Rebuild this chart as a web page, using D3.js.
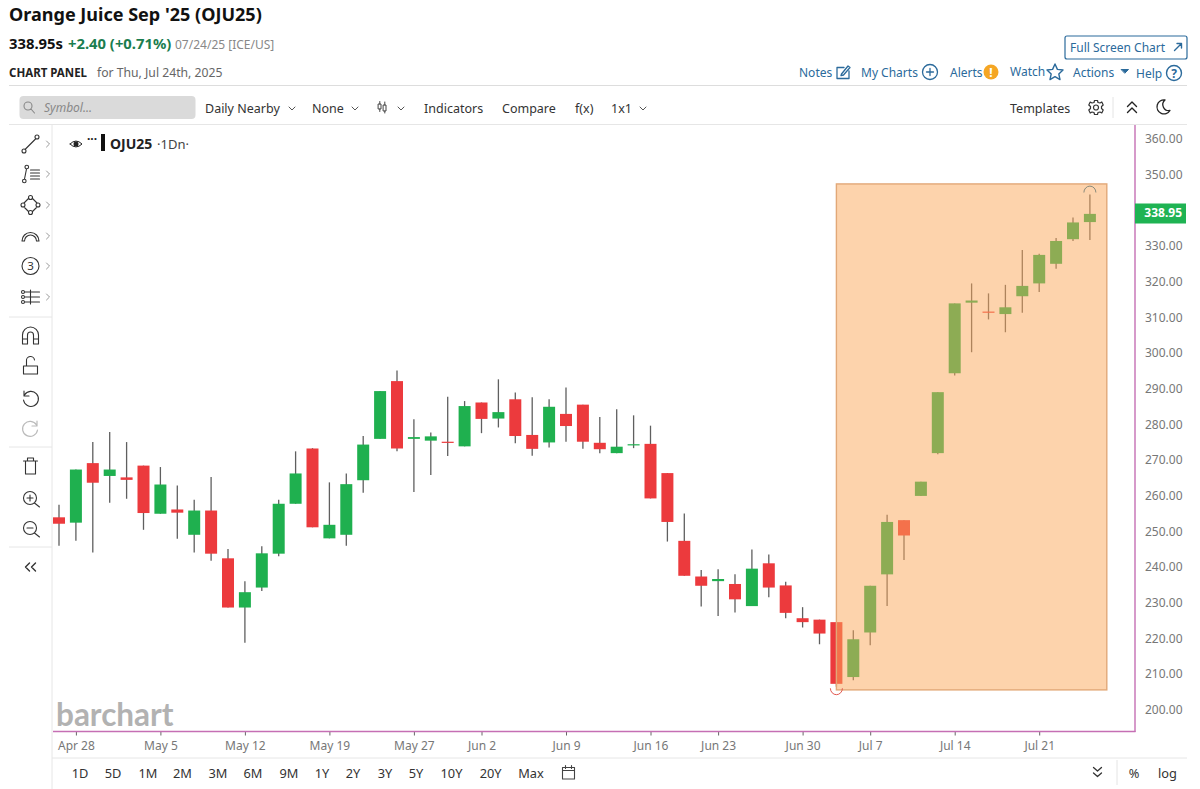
<!DOCTYPE html>
<html>
<head>
<meta charset="utf-8">
<script src="https://cdn.jsdelivr.net/npm/d3@7"></script>
<style>
  html, body { margin: 0; padding: 0; background: #fff; }
  svg { display: block; }
  text { font-family: "Noto Sans", "Open Sans", sans-serif; }
</style>
</head>
<body>
<svg id="chart" width="1200" height="789"></svg>
<script>
// Trading days shown on the chart
var tradingDays = [
  "Apr 25", "Apr 28", "Apr 29", "Apr 30", "May 1", "May 2",
  "May 5", "May 6", "May 7", "May 8", "May 9",
  "May 12", "May 13", "May 14", "May 15", "May 16",
  "May 19", "May 20", "May 21", "May 22", "May 23",
  "May 27", "May 28", "May 29", "May 30",
  "Jun 2", "Jun 3", "Jun 4", "Jun 5", "Jun 6",
  "Jun 9", "Jun 10", "Jun 11", "Jun 12", "Jun 13",
  "Jun 16", "Jun 17", "Jun 18", "Jun 20",
  "Jun 23", "Jun 24", "Jun 25", "Jun 26", "Jun 27",
  "Jun 30", "Jul 1", "Jul 2", "Jul 3",
  "Jul 7", "Jul 8", "Jul 9", "Jul 10", "Jul 11",
  "Jul 14", "Jul 15", "Jul 16", "Jul 17", "Jul 18",
  "Jul 21", "Jul 22", "Jul 23", "Jul 24"
];

// OHLC values
var opens = [
  253.9, 252.4, 269.1, 265.5, 265.1, 268.4, 254.9, 256.1, 249.0, 255.8,
  242.4, 228.6, 234.2, 243.7, 257.7, 273.2, 248.0, 249.0, 264.3, 275.9,
  292.1, 275.9, 275.4, 275.1, 273.8, 286.1, 281.6, 287.0, 277.0, 274.9,
  282.9, 285.5, 274.8, 271.9, 274.4, 274.5, 266.3, 247.3, 237.3, 236.0,
  235.2, 229.0, 241.0, 234.8, 225.6, 225.2, 224.5, 209.1, 221.6, 237.9,
  253.1, 259.9, 271.9, 294.3, 314.1, 311.6, 310.9, 315.9, 319.5, 325.0,
  331.9, 336.7
];
var closes = [
  252.1, 267.3, 263.6, 267.3, 264.4, 255.1, 263.1, 255.2, 255.8, 243.7,
  228.6, 232.9, 243.8, 257.7, 266.2, 251.1, 251.8, 263.2, 274.3, 289.3,
  273.2, 276.4, 276.6, 274.9, 285.1, 281.5, 283.4, 276.7, 273.1, 284.9,
  279.5, 275.1, 273.0, 273.7, 274.4, 259.2, 252.6, 237.5, 234.7, 236.6,
  230.9, 239.5, 234.2, 227.1, 224.5, 221.3, 207.2, 219.7, 234.7, 252.6,
  248.8, 263.9, 289.0, 313.9, 314.7, 311.4, 312.8, 318.8, 327.5, 331.4,
  336.6, 339.0
];
var highs = [
  257.4, 267.3, 275.0, 277.8, 275.0, 268.4, 268.0, 262.8, 258.8, 265.2,
  245.0, 236.0, 245.8, 258.8, 272.4, 273.3, 263.7, 266.2, 276.7, 289.3,
  295.1, 281.4, 277.7, 287.7, 286.5, 286.1, 292.6, 288.9, 287.6, 287.0,
  290.3, 285.5, 282.0, 284.2, 282.5, 279.6, 266.3, 255.0, 239.1, 239.3,
  237.9, 244.9, 243.5, 235.8, 228.7, 225.2, 224.5, 222.2, 234.7, 254.6,
  253.1, 263.9, 289.0, 313.9, 319.5, 316.7, 319.1, 328.9, 327.8, 332.2,
  338.0, 344.4
];
var lows = [
  245.9, 247.3, 244.0, 258.0, 259.1, 250.4, 254.9, 247.9, 244.0, 241.7,
  228.6, 218.7, 233.2, 243.0, 257.7, 251.1, 248.0, 245.9, 260.8, 275.9,
  272.4, 261.0, 265.8, 271.1, 273.8, 277.5, 279.1, 274.7, 271.2, 273.5,
  275.1, 273.1, 271.9, 271.9, 273.3, 259.2, 247.1, 237.5, 228.9, 226.2,
  227.2, 229.0, 231.5, 225.6, 223.0, 218.3, 206.4, 208.2, 218.0, 229.0,
  241.9, 259.9, 271.6, 293.7, 300.2, 309.4, 305.8, 311.3, 317.1, 323.6,
  331.4, 331.7
];

// Axis labels (340.00 sits under the last price tag in the reference)
var priceTicks = [200, 210, 220, 230, 240, 250, 260, 270, 280, 290, 300, 310, 320, 330, 350, 360];
var dateTicks = ["Apr 28", "May 5", "May 12", "May 19", "May 27", "Jun 2", "Jun 9", "Jun 16", "Jun 23", "Jun 30", "Jul 7", "Jul 14", "Jul 21"];

// Highlighted rectangle: first day and price range
var boxStartDay = "Jul 2";
var boxTop = 347.4;
var boxBottom = 205.5;
var lastPrice = 338.95;

var svg = d3.select("#chart");
var blue = "#2b6a9b", grey = "#777", ink = "#333";

// Scales
var x = d3.scalePoint().domain(tradingDays).range([59, 1089.9]);
var y = d3.scaleLinear().domain([200, 360]).range([709.5, 139]);

// Helper for plain text
function label(tx, ty, str, size, color, weight, anchor) {
  return svg.append("text").attr("x", tx).attr("y", ty).text(str)
    .attr("font-size", size).attr("fill", color)
    .attr("font-weight", weight || 400)
    .attr("text-anchor", anchor || "start");
}
function rule(x1, y1, x2, y2, color, w) {
  svg.append("line").attr("x1", x1).attr("y1", y1).attr("x2", x2).attr("y2", y2)
    .attr("stroke", color).attr("stroke-width", w || 1);
}
// Icon helper, path is drawn around its centre
function icon(cx, cy, d, color, w, fill) {
  return svg.append("path").attr("transform", "translate(" + cx + "," + cy + ")")
    .attr("d", d).attr("fill", fill || "none").attr("stroke", color)
    .attr("stroke-width", w || 1.3).attr("stroke-linecap", "round").attr("stroke-linejoin", "round");
}
function chevron(cx, cy) { icon(cx, cy, "M-3,-1.5L0,1.5L3,-1.5", "#555", 1); }

// Header
label(9, 21, "Orange Juice Sep '25 (OJU25)", 18.05, "#111", 700);
label(9, 49, "338.95s", 14.8, "#111", 700);
label(68, 49, "+2.40 (+0.71%)", 14.8, "#1b7d4f", 700);
label(175, 49, "07/24/25 [ICE/US]", 12, "#888");
label(9, 77, "CHART PANEL", 11.5, "#222", 700);
label(97, 77, "for Thu, Jul 24th, 2025", 12.2, "#666");

// Full screen button and link row
svg.append("rect").attr("x", 1065).attr("y", 36).attr("width", 122).attr("height", 23).attr("rx", 2)
  .attr("fill", "#fff").attr("stroke", blue).attr("stroke-width", 1.2);
label(1070, 51.5, "Full Screen Chart", 12, blue);
icon(1178, 47, "M-3.5,3.5L3.5,-3.5M-1,-3.5H3.5V1", blue, 1.4);

label(799, 76.5, "Notes", 12, blue);
icon(843, 72, "M-6,-4.5H1M6,-1V6.5H-6V-4.5M-1.5,2L5,-6L7,-4.5L0.5,3L-2,3.5Z", blue);
label(861, 76.5, "My Charts", 12, blue);
icon(930, 72, "M-7.5,0A7.5,7.5 0 1,1 7.5,0A7.5,7.5 0 1,1 -7.5,0M-3.5,0H3.5M0,-3.5V3.5", blue);
label(950, 77, "Alerts", 12, blue);
svg.append("circle").attr("cx", 991).attr("cy", 72).attr("r", 7.5).attr("fill", "#f5a623");
label(991, 76.5, "!", 12, "#fff", 700, "middle");
label(1010, 76, "Watch", 12, blue);
icon(1055, 72, "M0,-8L2.4,-2.6L8,-2L3.8,1.9L5,7.6L0,4.7L-5,7.6L-3.8,1.9L-8,-2L-2.4,-2.6Z", blue, 1.4);
label(1073, 77, "Actions", 12, blue);
icon(1125, 71, "M-3.5,-1.5H3.5L0,2Z", blue, 1, blue);
label(1136, 78, "Help", 12, blue);
icon(1174, 73, "M-7.5,0A7.5,7.5 0 1,1 7.5,0A7.5,7.5 0 1,1 -7.5,0", blue, 1.4);
label(1174, 77.5, "?", 12, blue, 700, "middle");

rule(9, 85.5, 1187, 85.5, "#ddd");
rule(9, 124.5, 1187, 124.5, "#e6e6e6");

// Chart toolbar
svg.append("rect").attr("x", 19.5).attr("y", 96).attr("width", 176).attr("height", 23).attr("rx", 4).attr("fill", "#dadada");
icon(29, 107, "M-5,-1A4,4 0 1,1 3,-1A4,4 0 1,1 -5,-1M2,2L5.5,6", "#888", 1.1);
label(44, 112, "Symbol...", 12, "#888").attr("font-style", "italic");
var toolItems = [[205, "Daily Nearby"], [312, "None"], [424, "Indicators"], [502, "Compare"], [575, "f(x)"], [611, "1x1"], [1010, "Templates"]];
toolItems.forEach(function(t) { label(t[0], 112.5, t[1], 12.5, ink); });
[292, 355, 401, 643].forEach(function(c) { chevron(c, 108.5); });
icon(382, 107, "M-3.5,-3H-1V2H-3.5ZM-2.2,-5.5V-3M-2.2,2V4.5M1.5,-2H4V4H1.5ZM2.8,-5V-2M2.8,4V6", "#444", 1);
icon(1096, 107.5, "M-2.5,0A2.5,2.5 0 1,1 2.5,0A2.5,2.5 0 1,1 -2.5,0M-1.5,-7H1.5L2,-5L4,-4.5L5.8,-5.5L7.2,-2.5L5.5,-1V1L7.2,2.5L5.8,5.5L4,4.5L2,5L1.5,7H-1.5L-2,5L-4,4.5L-5.8,5.5L-7.2,2.5L-5.5,1V-1L-7.2,-2.5L-5.8,-5.5L-4,-4.5L-2,-5Z", "#333", 1.2);
rule(1113, 97, 1113, 118, "#e4e4e4");
icon(1132, 107.5, "M-4.5,-1L0,-5.5L4.5,-1M-4.5,5L0,0.5L4.5,5", "#222", 1.4);
icon(1163, 107, "M2,-7A7,7 0 1,0 7,3.5A6,6 0 0,1 2,-7Z", "#222", 1.3);

// Left drawing tools
rule(52, 125, 52, 789, "#e6e6e6");
var toolIcons = [
  [144, "M-5.5,5.5L5.5,-5.5M-8.5,7A2,2 0 1,0 -4.5,7A2,2 0 1,0 -8.5,7M4.5,-7A2,2 0 1,0 8.5,-7A2,2 0 1,0 4.5,-7"],
  [174, "M-4,-5L-6,5M-8,7A1.8,1.8 0 1,0 -4.4,7A1.8,1.8 0 1,0 -8,7M-5.5,-7A1.8,1.8 0 1,0 -1.9,-7A1.8,1.8 0 1,0 -5.5,-7M0,-4H9M0,-1H9M0,2H9M0,5H9"],
  [205, "M-6.5,-2L-2,-6.5M2,-6.5L6.5,-2M6.5,2L2,6.5M-2,6.5L-6.5,2M-2,-7.5A2,2 0 1,0 2,-7.5A2,2 0 1,0 -2,-7.5M-2,7.5A2,2 0 1,0 2,7.5A2,2 0 1,0 -2,7.5M-9.5,0A2,2 0 1,0 -5.5,0A2,2 0 1,0 -9.5,0M5.5,0A2,2 0 1,0 9.5,0A2,2 0 1,0 5.5,0"],
  [236, "M-8.5,5A8.5,8.5 0 0,1 8.5,5H6A6,6 0 0,0 -6,5Z"],
  [266, "M-8.5,0A8.5,8.5 0 1,1 8.5,0A8.5,8.5 0 1,1 -8.5,0"],
  [297, "M-6,-5H9M-6,0H9M-6,5H9M0,-7V7M-9,-5A1.5,1.5 0 1,0 -6,-5A1.5,1.5 0 1,0 -9,-5M-9,0A1.5,1.5 0 1,0 -6,0A1.5,1.5 0 1,0 -9,0M-9,5A1.5,1.5 0 1,0 -6,5A1.5,1.5 0 1,0 -9,5"],
  [336, "M-8,8V-1A8,8 0 0,1 8,-1V8H3V-1A3,3 0 0,0 -3,-1V8ZM-8,3H-3M3,3H8"],
  [365, "M-7,1H7V9H-7ZM-4,1V-4A4,4 0 0,1 4,-5"],
  [397, "M-6.5,-6V-1H-1.5M-6,-2A7.5,7.5 0 1,1 -7,3"],
  [466, "M-7,-5H7M-5,-5V8H5V-5M-3,-5V-8H3V-5"],
  [498, "M-7,0A6.5,6.5 0 1,1 6,0A6.5,6.5 0 1,1 -7,0M4,5L9,9M-3.5,0H2.5M-0.5,-3V3"],
  [528, "M-7,0A6.5,6.5 0 1,1 6,0A6.5,6.5 0 1,1 -7,0M4,5L9,9M-3.5,0H2.5"]
];
toolIcons.forEach(function(t) { icon(30.5, t[0], t[1], "#333", 1.1); });
icon(30.5, 427, "M6.5,-6V-1H1.5M6,-2A7.5,7.5 0 1,0 7,3", "#bbb", 1.2);
label(30.5, 270, "3", 11.5, "#333", 400, "middle");
icon(30.5, 567, "M-1,-4L-5,0L-1,4M5,-4L1,0L5,4", "#333", 1.4);
[144, 174, 205, 236, 266, 297].forEach(function(c) { icon(48, c, "M-1.5,-3L1.5,0L-1.5,3", "#999", 1); });
[317, 447, 547].forEach(function(c) { rule(9, c, 52, c, "#e6e6e6"); });

// Legend
icon(76, 144, "M-6,0Q0,-6 6,0Q0,6 -6,0", "#222", 1);
svg.append("circle").attr("cx", 76).attr("cy", 144).attr("r", 2.5).attr("fill", "#222");
label(87, 143, "···", 12, "#222", 700);
svg.append("rect").attr("x", 101).attr("y", 134).attr("width", 4).attr("height", 17).attr("fill", "#111");
label(110, 149, "OJU25", 14, "#222", 700);
label(157, 149, "·1Dn·", 13, "#444");

// Watermark
label(56, 726, "barchart", 31.5, "#b2b2b2", 700).style("font-family", "Lato, sans-serif");

// Candles
var candles = tradingDays.map(function(day, i) {
  return { day: day, open: opens[i], close: closes[i], high: highs[i], low: lows[i] };
});
var bars = svg.append("g").selectAll("g").data(candles).enter().append("g");
bars.append("line")
  .attr("x1", function(d) { return x(d.day); })
  .attr("x2", function(d) { return x(d.day); })
  .attr("y1", function(d) { return y(d.high); })
  .attr("y2", function(d) { return y(d.low); })
  .attr("stroke", "#5f5f5f").attr("stroke-width", 1.3);
bars.append("rect")
  .attr("x", function(d) { return x(d.day) - 6; })
  .attr("width", 12)
  .attr("y", function(d) { return y(Math.max(d.open, d.close)); })
  .attr("height", function(d) { return Math.max(1.2, Math.abs(y(d.open) - y(d.close))); })
  .attr("fill", function(d) { return d.close >= d.open ? "#1fb04f" : "#ec3a3d"; });

// Highlight box over the candles
svg.append("rect")
  .attr("x", x(boxStartDay))
  .attr("width", x(tradingDays[tradingDays.length - 1]) + x.step() - x(boxStartDay))
  .attr("y", y(boxTop))
  .attr("height", y(boxBottom) - y(boxTop))
  .attr("fill", "rgba(252,168,90,0.5)")
  .attr("stroke", "#e2a878").attr("stroke-width", 1.4);

// Small arcs at the extreme low and high
var lowDay = candles[d3.leastIndex(lows)];
var highDay = candles[d3.greatestIndex(highs)];
icon(x(lowDay.day), y(lowDay.low) + 2, "M-6,0A6,6 0 0,0 6,0", "#e2574f", 1);
icon(x(highDay.day), y(highDay.high) - 2.5, "M-6,0A6,6 0 0,1 6,0", "#8a8a7a", 1);

// Axes
var yAxis = d3.axisRight(y).tickValues(priceTicks).tickFormat(d3.format(".2f")).tickSize(0).tickPadding(10);
var yG = svg.append("g").attr("transform", "translate(1135,0)").call(yAxis);
yG.select(".domain").remove();
yG.selectAll("text").attr("font-size", 12).attr("fill", grey).style("font-family", '"Noto Sans", sans-serif');

var xAxis = d3.axisBottom(x).tickValues(dateTicks).tickSize(4).tickPadding(6);
var xG = svg.append("g").attr("transform", "translate(0,731.5)").call(xAxis);
xG.select(".domain").remove();
xG.selectAll("line").attr("stroke", "#666");
xG.selectAll("text").attr("font-size", 12).attr("fill", grey).style("font-family", '"Noto Sans", sans-serif');

// Pink chart frame
rule(53, 731.5, 1135.5, 731.5, "#c56fb4", 1.4);
rule(1135, 125, 1135, 732, "#c56fb4", 1.4);

// Last price tag
svg.append("rect").attr("x", 1135).attr("y", 203.5).attr("width", 51).attr("height", 20).attr("fill", "#1fb353");
label(1182, y(lastPrice) + 3, "338.95", 12, "#fff", 700, "end");

// Bottom range bar
rule(52, 758, 1187, 758, "#e6e6e6");
var ranges = [["1D", 80], ["5D", 113], ["1M", 148], ["2M", 182.5], ["3M", 218], ["6M", 253], ["9M", 289], ["1Y", 322], ["2Y", 353], ["3Y", 385], ["5Y", 416], ["10Y", 451.5], ["20Y", 490.6], ["Max", 531]];
ranges.forEach(function(r) { label(r[1], 778, r[0], 12.8, ink, 400, "middle"); });
icon(568.5, 772.5, "M-6,-5H6V6.5H-6ZM-6,-2H6M-3,-7V-4M3,-7V-4", "#444", 1.1);
icon(1097.5, 772.5, "M-4,-5L0,-1.5L4,-5M-4,0.5L0,4L4,0.5", "#333", 1.3);
rule(1117, 760, 1117, 785, "#e4e4e4");
label(1134, 778, "%", 12.8, ink, 400, "middle");
label(1167.5, 778, "log", 12.8, ink, 400, "middle");
</script>
</body>
</html>
